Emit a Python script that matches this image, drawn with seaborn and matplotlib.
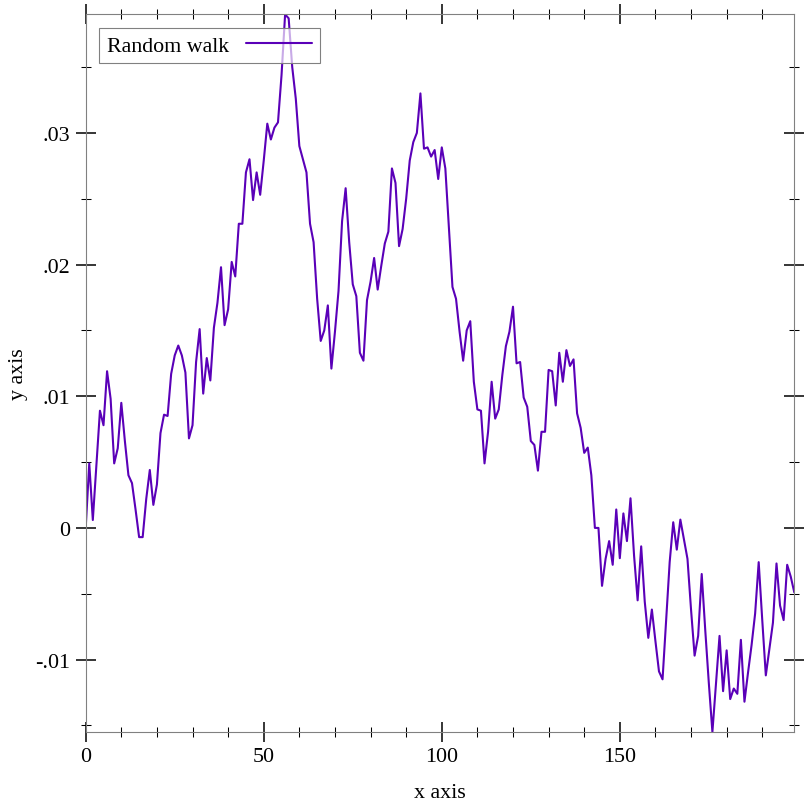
import matplotlib
matplotlib.use("Agg")
import matplotlib.pyplot as plt
import pandas as pd
import seaborn as sns
from matplotlib.ticker import FixedLocator, NullFormatter

# ---- data -------------------------------------------------------------
series_name = "Random walk"
x_values = list(range(200))
y_values = [
    0.0, 0.0049, 0.0006, 0.0047, 0.0089, 0.0078, 0.0119, 0.0098, 0.0049, 0.00605,
    0.0095, 0.0066, 0.0040, 0.0034, 0.0014, -0.0007, -0.0007, 0.0022, 0.0044, 0.00175,
    0.0033, 0.0072, 0.0086, 0.0085, 0.0117, 0.0131, 0.01385, 0.0131, 0.0118, 0.0068,
    0.0078, 0.0126, 0.0151, 0.0102, 0.0129, 0.0112, 0.0152, 0.0171, 0.0198, 0.0154,
    0.0166, 0.0202, 0.0191, 0.0231, 0.0231, 0.0270, 0.0280, 0.0249, 0.0270, 0.0253,
    0.0279, 0.0307, 0.0295, 0.0304, 0.0308, 0.0344, 0.0390, 0.0387, 0.0350, 0.0326,
    0.0290, 0.0280, 0.0270, 0.0231, 0.0217, 0.0174, 0.0142, 0.0150, 0.0169, 0.0121,
    0.0149, 0.0180, 0.0233, 0.0258, 0.0217, 0.0185, 0.0176, 0.0133, 0.0127, 0.0173,
    0.0187, 0.0205, 0.0181, 0.0199, 0.0216, 0.0225, 0.0273, 0.0262, 0.0214, 0.0227,
    0.0250, 0.0279, 0.0293, 0.0300, 0.0330, 0.0288, 0.0289, 0.0282, 0.0287, 0.0265,
    0.0289, 0.0273, 0.0228, 0.0183, 0.0174, 0.0149, 0.0127, 0.0150, 0.0157, 0.0111,
    0.0090, 0.0089, 0.0049, 0.0073, 0.0111, 0.0083, 0.0090, 0.0116, 0.0138, 0.0149,
    0.0168, 0.0125, 0.0126, 0.0099, 0.0092, 0.0066, 0.0063, 0.00435, 0.0073, 0.0073,
    0.0120, 0.0119, 0.0093, 0.0133, 0.0111, 0.0135, 0.0123, 0.0128, 0.0087, 0.0076,
    0.0057, 0.0061, 0.0040, 0.0000, 0.0000, -0.0044, -0.00235, -0.0010, -0.0028, 0.0014,
    -0.0023, 0.0011, -0.0010, 0.00225, -0.0021, -0.0055, -0.0014, -0.0056, -0.00835, -0.0062,
    -0.0086, -0.0109, -0.0115, -0.0070, -0.0026, 0.00043, -0.00165, 0.00063, -0.00084, -0.00235,
    -0.0062, -0.0097, -0.0082, -0.0035, -0.0078, -0.0118, -0.0155, -0.0118, -0.0082, -0.0124,
    -0.0093, -0.0130, -0.0122, -0.0126, -0.0085, -0.0132, -0.0110, -0.0089, -0.0065, -0.0026,
    -0.0070, -0.0112, -0.0092, -0.0072, -0.0027, -0.0059, -0.0070, -0.0028, -0.0037, -0.0049,
]
x_major_ticks = [0, 50, 100, 150]
x_tick_labels = ["0", "50", "100", "150"]
x_minor_ticks = [10, 20, 30, 40, 60, 70, 80, 90, 110, 120, 130, 140, 160, 170, 180, 190]
y_major_ticks = [-0.01, 0.0, 0.01, 0.02, 0.03]
y_tick_labels = ["-.01", "0", ".01", ".02", ".03"]
y_minor_ticks = [-0.015, -0.005, 0.005, 0.015, 0.025, 0.035]
x_label = "x axis"
y_label = "y axis"

# ---- style ------------------------------------------------------------
sns.set_theme(style="white")
plt.rcParams["font.family"] = ["Liberation Serif", "DejaVu Serif"]
plt.rcParams["text.color"] = "black"
FS = 15.8
LINE_COLOR = "#5a00b8"
AXIS_GRAY = "#808080"

fig = plt.figure(figsize=(8.12, 8.12), dpi=100)
W = H = 812.0
left, right, top, bottom = 85.7, 794.3, 15.4, 733.0
ax = fig.add_axes([left / W, 1 - bottom / H, (right - left) / W, (bottom - top) / H])

df = pd.DataFrame({"x": x_values, "y": y_values})
sns.lineplot(data=df, x="x", y="y", ax=ax, color=LINE_COLOR, linewidth=1.5,
             estimator=None, sort=False, label=series_name)

ax.set_xlim(min(x_values), max(x_values))
ax.set_ylim(min(y_values), max(y_values))

ax.xaxis.set_major_locator(FixedLocator(x_major_ticks))
ax.set_xticklabels(x_tick_labels)
ax.xaxis.set_minor_locator(FixedLocator(x_minor_ticks))
ax.yaxis.set_major_locator(FixedLocator(y_major_ticks))
ax.set_yticklabels(y_tick_labels)
ax.yaxis.set_minor_locator(FixedLocator(y_minor_ticks))
ax.xaxis.set_minor_formatter(NullFormatter())
ax.yaxis.set_minor_formatter(NullFormatter())

ax.tick_params(which="major", direction="inout", length=14, width=1.1, color="black",
               top=True, right=True, bottom=True, left=True,
               labeltop=False, labelright=False, labelsize=FS, pad=4, labelcolor="black")
ax.tick_params(which="minor", direction="inout", length=7, width=0.75, color="black",
               top=True, right=True, bottom=True, left=True)

for s in ax.spines.values():
    s.set_visible(True)
    s.set_color(AXIS_GRAY)
    s.set_linewidth(0.8)

ax.set_xlabel(x_label, fontsize=FS, color="black", labelpad=12)
ax.set_ylabel(y_label, fontsize=FS, color="black", labelpad=5)
ax.grid(False)

leg = ax.legend(loc="upper left", markerfirst=False, frameon=True, fancybox=False,
                fontsize=FS, handlelength=3.0, handletextpad=0.8, borderpad=0.35,
                borderaxespad=0.6, labelcolor="black")
frame = leg.get_frame()
frame.set_alpha(None)
frame.set_facecolor((1, 1, 1, 0.67))
frame.set_edgecolor(AXIS_GRAY)
frame.set_linewidth(0.8)

fig.savefig("out.png", dpi=100)
